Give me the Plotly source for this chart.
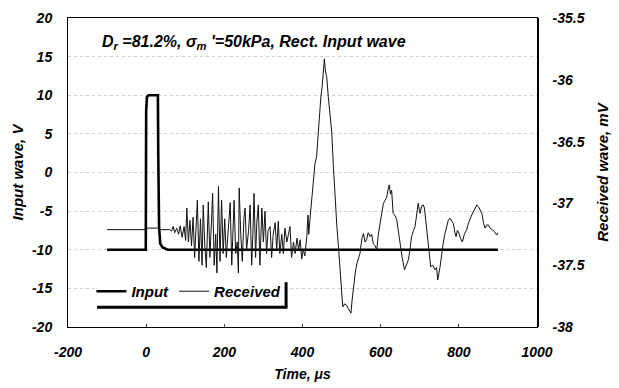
import plotly.graph_objects as go

# ---- data ----
input_t = [-100, -1, 0, 2, 6, 30, 31, 33, 36, 42, 55, 900]
input_v = [-10, -10, 8, 9.8, 10, 10, 2, -7, -9.2, -9.7, -10, -10]

received_t = [-100, 0, 2, 30, 35, 60, 65, 69, 73, 78, 83, 87, 92, 97, 101, 104, 108, 112, 116, 120,
              124, 128, 131, 135, 139, 143, 146, 150, 154, 159, 163, 167, 170, 174, 178, 181,
              185, 189, 193, 197, 201, 205, 209, 212, 215, 219, 222, 225, 229, 233, 236, 238,
              242, 246, 250, 253, 257, 262, 266, 270, 273, 276, 280, 283, 287, 291, 296, 300,
              304, 308, 312, 317, 321, 325, 330, 334, 338, 342, 347, 351, 355, 360, 364, 368,
              372, 377, 381, 386, 390, 394, 398, 402, 406, 411, 414, 416, 419, 424, 428, 432,
              436, 440, 444, 447, 450, 453, 456, 459, 462, 466, 470, 475, 479, 483, 488, 492,
              496, 500, 503, 508, 513, 517, 520, 524, 527, 530, 535, 539, 543, 547, 552, 556,
              560, 564, 568, 573, 577, 581, 586, 590, 594, 598, 603, 607, 611, 615, 619, 622,
              625, 628, 632, 636, 641, 646, 650, 655, 661, 666, 671, 675, 679, 684, 688, 692,
              696, 699, 701, 705, 709, 712, 715, 718, 723, 728, 733, 739, 743, 746, 752, 756,
              760, 764, 769, 773, 777, 781, 786, 790, 793, 796, 799, 804, 809, 814, 820, 825,
              829, 833, 837, 841, 846, 850, 855, 859, 863, 867, 871, 876, 880, 884, 890, 897, 900]
received_mv = [-37.2125, -37.2125, -37.2, -37.2, -37.2125, -37.2125, -37.225, -37.1875, -37.2375, -37.2,
               -37.25, -37.181, -37.275, -37.1875, -37.3, -37.0375, -37.3125, -37.1375, -37.344, -37.1125,
               -37.4375, -37.156, -36.975, -37.469, -37.125, -37.5, -37.0125, -37.344, -37.519, -36.9875,
               -37.4375, -37.156, -36.919, -37.5, -37.25, -37.5625, -36.8625, -37.469, -36.975, -37.406,
               -37.125, -37.4375, -37.219, -37.094, -36.994, -37.5, -37.125, -36.975, -37.406, -37.3125,
               -37.5625, -36.875, -37.25, -37.469, -37.125, -37.0375, -37.375, -37.219, -37.0125, -37.5,
               -37.25, -36.919, -37.4375, -37.156, -37.0125, -37.5, -37.0375, -37.3125, -37.0625, -37.406,
               -37.219, -37.1875, -37.4375, -37.25, -37.156, -37.375, -37.144, -37.406, -37.25, -37.406,
               -37.2, -37.3125, -37.25, -37.1875, -37.4375, -37.3125, -37.406, -37.281, -37.375, -37.294,
               -37.45, -37.375, -37.425, -37.269, -37.094, -37.25, -37.131, -36.969, -36.8375, -36.675,
               -36.625, -36.431, -36.3125, -36.1375, -36.0625, -35.894, -35.831, -35.9375, -35.975, -36.1375,
               -36.281, -36.431, -36.7, -36.975, -37.1875, -37.35, -37.5625, -37.719, -37.8375, -37.8125,
               -37.825, -37.85, -37.8625, -37.8875, -37.781, -37.675, -37.5625, -37.4875, -37.4375, -37.406,
               -37.281, -37.244, -37.3125, -37.294, -37.2375, -37.269, -37.25, -37.325, -37.344, -37.375,
               -37.25, -37.1625, -37.0625, -37.0, -36.975, -36.956, -36.8875, -36.85, -36.925, -36.894,
               -37.081, -37.094, -37.131, -37.25, -37.35, -37.4375, -37.5375, -37.5, -37.456, -37.375,
               -37.269, -37.219, -37.1875, -37.094, -37.0, -37.05, -37.081, -37.019, -37.0125, -37.0375,
               -37.125, -37.2125, -37.375, -37.5125, -37.5, -37.5375, -37.519, -37.619, -37.5125, -37.406,
               -37.325, -37.25, -37.1875, -37.1375, -37.119, -37.144, -37.1625, -37.2375, -37.269, -37.219,
               -37.231, -37.281, -37.3125, -37.25, -37.2125, -37.156, -37.119, -37.094, -37.069, -37.0375,
               -37.0125, -37.025, -37.05, -37.081, -37.156, -37.2, -37.175, -37.175, -37.2, -37.2125,
               -37.225, -37.256, -37.2375]

x_ticks = [-200, 0, 200, 400, 600, 800, 1000]
y_left_ticks = [20, 15, 10, 5, 0, -5, -10, -15, -20]
y_right_ticks = [-35.5, -36, -36.5, -37, -37.5, -38]

FONT = "Liberation Sans, Arial, sans-serif"

def bi(s):
    return "<b><i>" + s + "</i></b>"

fig = go.Figure()
fig.add_trace(go.Scatter(x=input_t, y=input_v, mode="lines", name=bi("Input"),
                         line=dict(color="black", width=2.6)))
fig.add_trace(go.Scatter(x=received_t, y=received_mv, mode="lines", name=bi("Received"),
                         yaxis="y2", line=dict(color="#111111", width=1, dash="solid")))

fig.update_layout(
    width=619, height=388,
    margin=dict(l=68, r=82, t=18, b=61, autoexpand=False),
    plot_bgcolor="white", paper_bgcolor="white",
    font=dict(family=FONT, size=14, color="black"),
    showlegend=True,
    legend=dict(orientation="h", x=0.05, y=0.115, xanchor="left", yanchor="middle",
                bgcolor="rgba(0,0,0,0)", borderwidth=0, font=dict(size=15),
                itemwidth=30, tracegroupgap=0),
    xaxis=dict(range=[-200, 1000], tickvals=x_ticks, ticktext=[bi(str(v)) for v in x_ticks],
               showline=True, linecolor="black", linewidth=1, mirror=True, automargin=False,
               showgrid=False, zeroline=False, ticks="inside", ticklen=3, ticklabelstandoff=12,
               tickfont=dict(size=14),
               title=dict(text=bi("Time, μs"), font=dict(size=14), standoff=10)),
    yaxis=dict(range=[-20, 20], tickvals=y_left_ticks, ticktext=[bi(str(v)) for v in y_left_ticks],
               showline=True, linecolor="black", linewidth=1, mirror=True, automargin=False,
               showgrid=True, gridcolor="#cfcfcf", griddash="dot", gridwidth=1,
               zeroline=False, ticks="", ticklabelstandoff=12, tickfont=dict(size=14),
               title=dict(text=bi("Input wave, V"), font=dict(size=15), standoff=4)),
    yaxis2=dict(range=[-38, -35.5], overlaying="y", side="right", automargin=False,
                tickvals=y_right_ticks, ticktext=[bi(("%g" % v)) for v in y_right_ticks],
                showline=True, linecolor="black", linewidth=1.5,
                showgrid=False, zeroline=False, ticks="", ticklabelstandoff=11,
                tickfont=dict(size=14),
                title=dict(text=bi("Received wave, mV"), font=dict(size=15), standoff=14)),
    annotations=[dict(xref="paper", yref="paper", x=0.068, y=0.92, xanchor="left", yanchor="middle",
                      showarrow=False, font=dict(size=16),
                      text=bi("D<sub>r</sub> =81.2%, σ<sub>m</sub> '=50kPa, Rect. Input wave"))],
    shapes=[
        dict(type="rect", xref="paper", yref="paper", x0=0.062, x1=0.462, y0=0.07, y1=0.15,
             fillcolor="white", line=dict(width=0), layer="above"),
        dict(type="line", xref="paper", yref="paper", x0=0.062, x1=0.468, y0=0.064, y1=0.064,
             line=dict(color="black", width=3), layer="above"),
        dict(type="line", xref="paper", yref="paper", x0=0.465, x1=0.465, y0=0.064, y1=0.145,
             line=dict(color="black", width=3), layer="above"),
    ],
)

fig.write_html("out.html")
